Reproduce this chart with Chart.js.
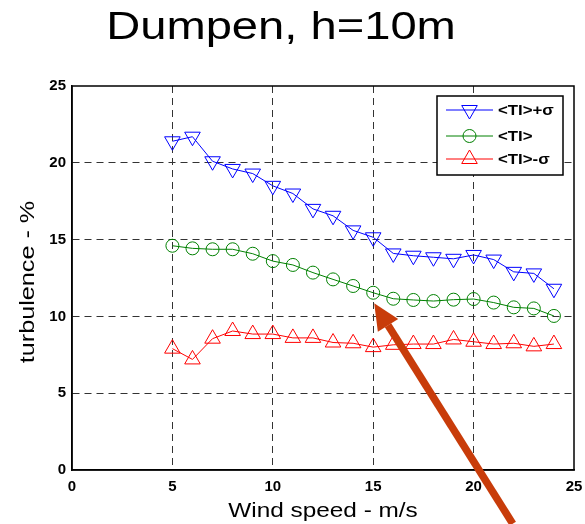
<!DOCTYPE html>
<html>
<head>
<meta charset="utf-8">
<script src="https://cdn.jsdelivr.net/npm/chart.js@4"></script>
<style>
  html, body { margin: 0; padding: 0; background: #fff; }
  canvas { display: block; }
</style>
</head>
<body>
<canvas id="tiChart" width="585" height="524"></canvas>
<script>
const chartTitle = "Dumpen, h=10m";
const xTitle = "Wind speed - m/s";
const yTitle = "turbulence - %";

const windSpeed = [5, 6, 7, 8, 9, 10, 11, 12, 13, 14, 15, 16, 17, 18, 19, 20, 21, 22, 23, 24];
const tiPlusSigma = [21.4, 21.7, 20.1, 19.6, 19.3, 18.5, 18.0, 17.0, 16.55, 15.6, 15.15, 14.1, 13.95, 13.85, 13.75, 14.0, 13.7, 12.9, 12.8, 11.8];
const tiMean = [14.6, 14.43, 14.37, 14.37, 14.08, 13.6, 13.35, 12.85, 12.41, 11.98, 11.54, 11.15, 11.07, 11.0, 11.09, 11.13, 10.9, 10.59, 10.52, 10.03];
const tiMinusSigma = [7.9, 7.2, 8.55, 9.05, 8.85, 8.85, 8.6, 8.6, 8.3, 8.25, 8.0, 8.15, 8.2, 8.2, 8.5, 8.35, 8.2, 8.25, 8.05, 8.2];

// annotation arrow (data coords): tip, tail
const arrowTip = [15.05, 10.85];
const arrowTail = [21.95, -3.5];

const toPoints = vals => vals.map((v, i) => ({ x: windSpeed[i], y: v }));

function series(label, vals, color, style, rotation, radius) {
    return {
        label: label,
        data: toPoints(vals),
        borderColor: color,
        backgroundColor: "rgba(0,0,0,0)",
        borderWidth: 1,
        pointStyle: style,
        pointRotation: rotation,
        pointRadius: radius,
        pointBorderWidth: 1,
        pointBorderColor: color,
        pointBackgroundColor: "rgba(0,0,0,0)",
        tension: 0
    };
}

const datasets = [
    series("<TI>+σ", tiPlusSigma, "#0000ff", "triangle", 180, 9),
    series("<TI>", tiMean, "#008000", "circle", 0, 6.5),
    series("<TI>-σ", tiMinusSigma, "#ff0000", "triangle", 0, 9)
];

function stretchedText(ctx, text, x, y, sx, align) {
    ctx.save();
    ctx.translate(x, y);
    ctx.scale(sx, 1);
    ctx.textAlign = align || "center";
    ctx.fillText(text, 0, 0);
    ctx.restore();
}

const decorPlugin = {
    id: "decor",
    afterDraw(chart) {
        const ctx = chart.ctx;
        const a = chart.chartArea;
        const xs = chart.scales.x, ys = chart.scales.y;

        // frame
        ctx.save();
        ctx.strokeStyle = "#000";
        ctx.lineWidth = 1.5;
        ctx.strokeRect(a.left, a.top, a.right - a.left, a.bottom - a.top);
        ctx.restore();

        // titles
        ctx.save();
        ctx.fillStyle = "#000";
        ctx.textBaseline = "alphabetic";
        ctx.font = "38px 'Liberation Sans', Arial, sans-serif";
        stretchedText(ctx, chartTitle, 281, 39, 1.24);
        ctx.font = "21px 'Liberation Sans', Arial, sans-serif";
        stretchedText(ctx, xTitle, 323, 517, 1.16);
        ctx.translate(34, 282);
        ctx.rotate(-Math.PI / 2);
        stretchedText(ctx, yTitle, 0, 0, 1.2);
        ctx.restore();

        // legend
        ctx.save();
        ctx.fillStyle = "#fff";
        ctx.fillRect(437, 96, 126, 79);
        ctx.strokeStyle = "#000";
        ctx.lineWidth = 1.5;
        ctx.strokeRect(437, 96, 126, 79);
        const rows = [110, 136, 159];
        chart.data.datasets.forEach((ds, i) => {
            const y = rows[i];
            ctx.strokeStyle = ds.borderColor;
            ctx.lineWidth = 1;
            ctx.beginPath();
            ctx.moveTo(446, y);
            ctx.lineTo(493, y);
            ctx.stroke();
            ctx.fillStyle = "rgba(0,0,0,0)";
            Chart.helpers.drawPoint(ctx, {
                pointStyle: ds.pointStyle,
                rotation: ds.pointRotation,
                radius: ds.pointRadius,
                borderWidth: 1
            }, 469.5, y);
            ctx.fillStyle = "#000";
            ctx.font = "bold 15px 'Liberation Sans', Arial, sans-serif";
            ctx.textBaseline = "middle";
            stretchedText(ctx, ds.label, 498, y + 1, 1.12, "left");
        });
        ctx.restore();

        // arrow
        const tx = xs.getPixelForValue(arrowTip[0]), ty = ys.getPixelForValue(arrowTip[1]);
        const bx = xs.getPixelForValue(arrowTail[0]), by = ys.getPixelForValue(arrowTail[1]);
        const ang = Math.atan2(ty - by, tx - bx);
        const headLen = 26, headW = 12;
        const hx = tx - Math.cos(ang) * headLen, hy = ty - Math.sin(ang) * headLen;
        ctx.save();
        ctx.strokeStyle = "#c83c0a";
        ctx.fillStyle = "#c83c0a";
        ctx.lineWidth = 7.5;
        ctx.beginPath();
        ctx.moveTo(bx, by);
        ctx.lineTo(hx, hy);
        ctx.stroke();
        ctx.beginPath();
        ctx.moveTo(tx, ty);
        ctx.lineTo(hx + Math.sin(ang) * headW, hy - Math.cos(ang) * headW);
        ctx.lineTo(hx - Math.sin(ang) * headW, hy + Math.cos(ang) * headW);
        ctx.closePath();
        ctx.fill();
        ctx.restore();
    }
};

const gridOpts = {
    color: c => (c.tick && (c.tick.value === 0 || c.tick.value === 25)) ? "rgba(0,0,0,0)" : "#333",
    lineWidth: 1,
    drawTicks: false
};
const tickFont = { family: "'Liberation Sans', Arial, sans-serif", size: 15, weight: "bold" };

new Chart(document.getElementById("tiChart").getContext("2d"), {
    type: "line",
    data: { datasets: datasets },
    options: {
        responsive: false,
        animation: false,
        layout: { padding: { top: 86, right: 11, left: 0, bottom: 0 } },
        plugins: { legend: { display: false }, title: { display: false }, tooltip: { enabled: false } },
        scales: {
            x: {
                type: "linear",
                min: 0, max: 25,
                ticks: { stepSize: 5, color: "#000", font: tickFont, padding: 8, maxRotation: 0 },
                grid: gridOpts,
                border: { display: true, color: "#000", width: 1.5, dash: [7, 5] },
                afterFit: s => { s.height = 54; s.paddingLeft = 0; s.paddingRight = 0; }
            },
            y: {
                min: 0, max: 25,
                ticks: { stepSize: 5, color: "#000", font: tickFont, padding: 6 },
                grid: gridOpts,
                border: { display: true, color: "#000", width: 1.5, dash: [7, 5] },
                afterFit: s => { s.width = 72; s.paddingTop = 0; s.paddingBottom = 0; }
            }
        }
    },
    plugins: [decorPlugin]
});
</script>
</body>
</html>
